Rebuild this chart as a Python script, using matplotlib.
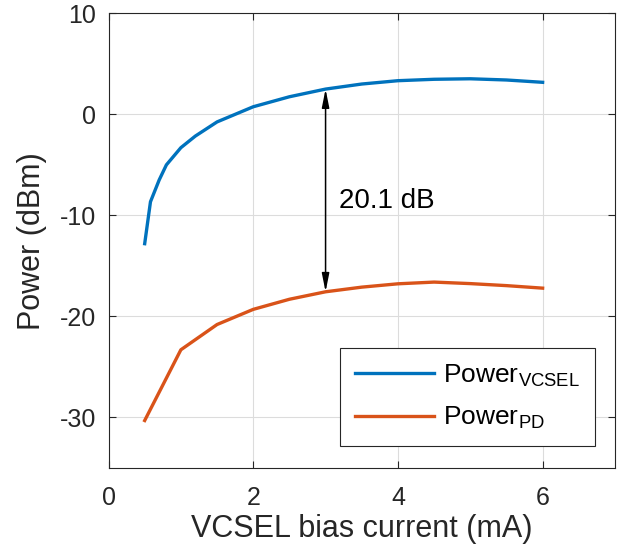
import numpy as np
import matplotlib
matplotlib.use("Agg")
import matplotlib.pyplot as plt

plt.rcParams['font.family'] = ['Liberation Sans', 'DejaVu Sans']
plt.rcParams['mathtext.fontset'] = 'custom'
plt.rcParams['mathtext.rm'] = 'Liberation Sans'
plt.rcParams['mathtext.it'] = 'Liberation Sans'
plt.rcParams['axes.unicode_minus'] = False

# VCSEL output power (dBm) vs bias current (mA)
i_vcsel = [0.5, 0.58, 0.7, 0.8, 1.0, 1.2, 1.5, 2.0, 2.5, 3.0, 3.5, 4.0, 4.5, 5.0, 5.5, 6.0]
p_vcsel = [-12.8, -8.65, -6.5, -5.0, -3.3, -2.15, -0.75, 0.75, 1.74, 2.5, 3.0, 3.33, 3.47, 3.52, 3.4, 3.17]

# received power at photodiode (dBm)
i_pd = [0.5, 1.0, 1.5, 2.0, 2.5, 3.0, 3.5, 4.0, 4.5, 5.0, 5.5, 6.0]
p_pd = [-30.3, -23.3, -20.8, -19.3, -18.3, -17.56, -17.1, -16.77, -16.6, -16.75, -16.95, -17.2]

gap_x = 3.0
gap_label = '20.1 dB'

fig = plt.figure(figsize=(6.19, 5.54), dpi=100)
ax = fig.add_axes([0.1753, 0.1552, 0.8182, 0.8208])

ax.plot(i_vcsel, p_vcsel, color='#0072BD', lw=2.4, label=r'Power$_{\mathrm{VCSEL}}$')
ax.plot(i_pd, p_pd, color='#D95319', lw=2.4, label=r'Power$_{\mathrm{PD}}$')

y_top = np.interp(gap_x, i_vcsel, p_vcsel)
y_bot = np.interp(gap_x, i_pd, p_pd)
ax.annotate('', xy=(gap_x, y_bot), xytext=(gap_x, y_top),
            arrowprops=dict(arrowstyle='<|-|>,head_length=1.1,head_width=0.22',
                            color='black', lw=1.1, shrinkA=0, shrinkB=0))
ax.text(gap_x + 0.18, -9.25, gap_label, fontsize=20, va='baseline', ha='left')

ax.set_xlim(0, 7)
ax.set_ylim(-35, 10)
ax.set_xticks([0, 2, 4, 6])
ax.set_yticks([-30, -20, -10, 0, 10])
ax.grid(True, color='#dcdcdc', lw=0.8)
ax.set_axisbelow(True)
ax.tick_params(direction='in', top=True, right=True, labelsize=18, length=5,
               color='#262626', labelcolor='#262626')
ax.tick_params(axis='x', pad=13)
ax.tick_params(axis='y', pad=9)
for s in ax.spines.values():
    s.set_color('#262626')
    s.set_linewidth(0.8)

ax.set_xlabel('VCSEL bias current (mA)', fontsize=22, color='#262626', labelpad=3)
ax.set_ylabel('Power (dBm)', fontsize=22, color='#262626', labelpad=9)

leg = ax.legend(loc='lower right', bbox_to_anchor=(0.96, 0.049), borderaxespad=0,
                fontsize=19, fancybox=False, edgecolor='#262626', framealpha=1,
                handlelength=3.0, handletextpad=0.35, labelspacing=0.62,
                borderpad=0.55)
leg.get_frame().set_linewidth(0.8)

fig.savefig('out.png', dpi=100)
